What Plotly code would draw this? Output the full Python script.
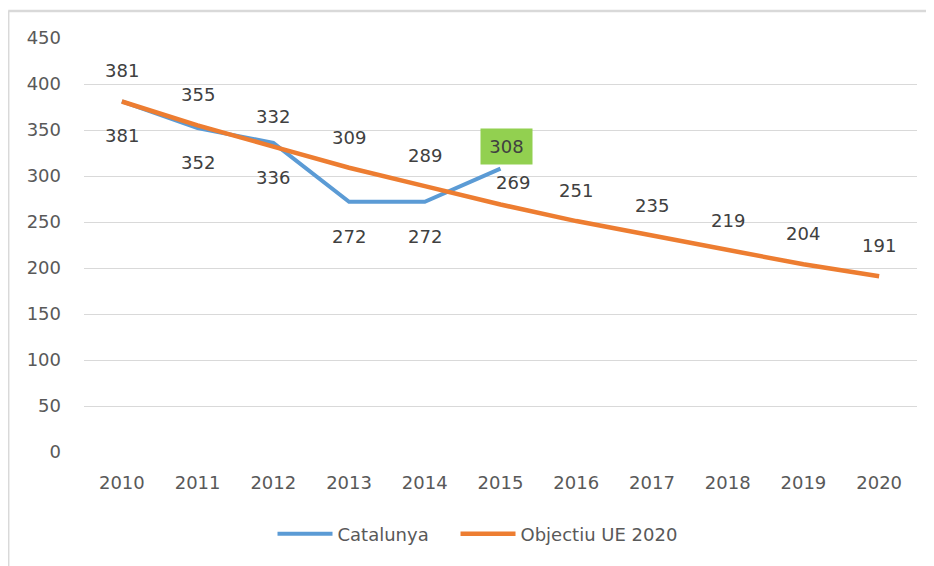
import plotly.graph_objects as go

years = ["2010", "2011", "2012", "2013", "2014", "2015", "2016", "2017", "2018", "2019", "2020"]
catalunya = [381, 352, 336, 272, 272, 308]
objectiu = [381, 355, 332, 309, 289, 269, 251, 235, 219, 204, 191]
y_ticks = [0, 50, 100, 150, 200, 250, 300, 350, 400, 450]

BLUE = "#5B9BD5"
ORANGE = "#ED7D31"
TXT = "#404040"
FONT = "DejaVu Sans"

fig = go.Figure()
fig.add_trace(go.Scatter(x=years[:len(catalunya)], y=catalunya, mode="lines", name="Catalunya",
                         line=dict(color=BLUE, width=4), legend="legend"))
fig.add_trace(go.Scatter(x=years, y=objectiu, mode="lines", name="Objectiu UE 2020",
                         line=dict(color=ORANGE, width=4.5), legend="legend2"))

ann = []
# Catalunya labels (below, last one above in green box)
for i, v in enumerate(catalunya):
    if i == len(catalunya) - 1:
        ann.append(dict(x=i, y=v, xref="x", yref="y", text=str(v), showarrow=False,
                        xshift=6, yshift=22.5,
                        bgcolor="#92D050", width=51, height=35, borderpad=0,
                        font=dict(family=FONT, size=18, color=TXT)))
    else:
        ann.append(dict(x=i, y=v, xref="x", yref="y", text=str(v), showarrow=False, yshift=-34.5,
                        font=dict(family=FONT, size=18, color=TXT)))
# Objectiu labels (above)
for i, v in enumerate(objectiu):
    if i == 5:
        ann.append(dict(x=i, y=v, xref="x", yref="y", text=str(v), showarrow=False,
                        xshift=12, yshift=22.5,
                        font=dict(family=FONT, size=18, color=TXT)))
    else:
        ann.append(dict(x=i, y=v, xref="x", yref="y", text=str(v), showarrow=False, yshift=30.5,
                        font=dict(family=FONT, size=18, color=TXT)))

legend_common = dict(orientation="h", xanchor="left", y=-0.198, yanchor="middle",
                     font=dict(family=FONT, size=18, color="#595959"), itemwidth=55,
                     bgcolor="rgba(0,0,0,0)")

fig.update_layout(
    width=934, height=566,
    margin=dict(l=76, r=25, t=30, b=122),
    paper_bgcolor="white", plot_bgcolor="white",
    font=dict(family=FONT, size=18, color="#595959"),
    annotations=ann,
    showlegend=True,
    legend=dict(x=0.2263, **legend_common),
    legend2=dict(x=0.446, **legend_common),
    xaxis=dict(type="category", range=[-0.5, 10.5], showgrid=False, zeroline=False,
               showline=False, ticks="", tickfont=dict(family=FONT, size=18, color="#595959"),
               ticklabelstandoff=18),
    yaxis=dict(range=[0, 450], tickvals=y_ticks, showgrid=True, gridcolor="#D9D9D9", gridwidth=1.3,
               zeroline=False, showline=False, ticks="",
               tickfont=dict(family=FONT, size=18, color="#595959"), ticklabelstandoff=22),
    shapes=[
        dict(type="line", xref="paper", yref="paper", x0=-0.091, x1=1.1, y0=1.0652, y1=1.0652,
             line=dict(color="#D9D9D9", width=2.5)),
        dict(type="line", xref="paper", yref="paper", x0=-0.091, x1=-0.091, y0=-0.4, y1=1.0652,
             line=dict(color="#D9D9D9", width=2.5)),
    ],
)

fig.write_html("out.html")
